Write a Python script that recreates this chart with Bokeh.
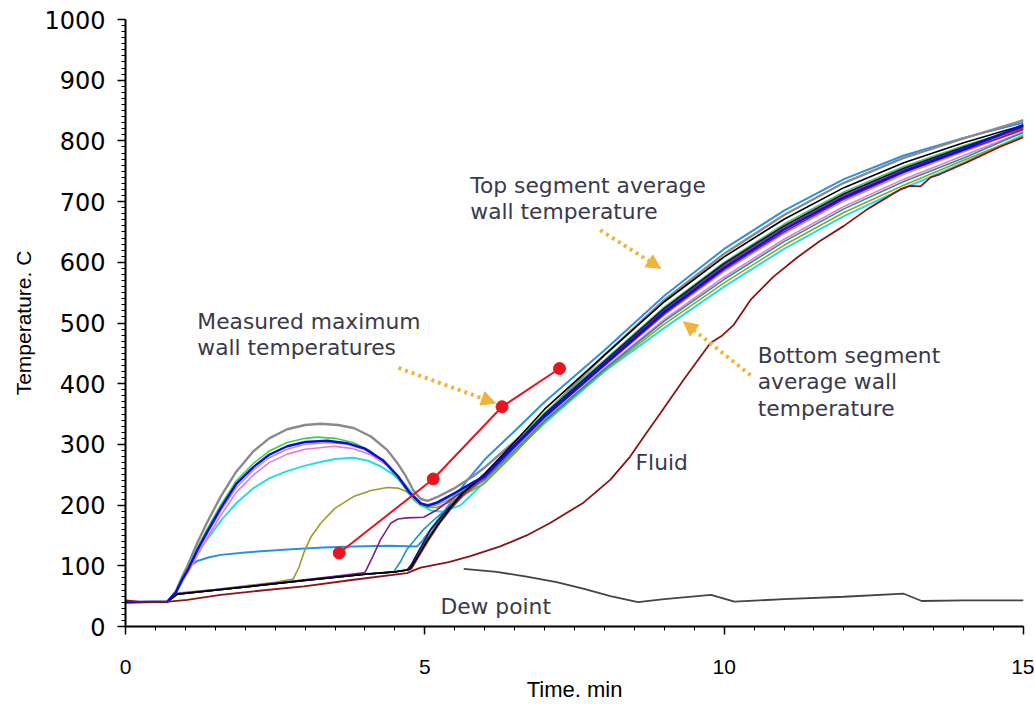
from bokeh.plotting import figure
from bokeh.models import (Range1d, SingleIntervalTicker, ColumnDataSource, Arrow,
                          NormalHead)
from bokeh.core.properties import value
from bokeh.embed import file_html
from bokeh.resources import INLINE

# ---- time grid shared by all wall thermocouples once they have merged (min)
late_t = [7, 8, 9, 10, 11, 12, 13, 14, 15]

# ---- wall thermocouples: early history (min, degC) + merged part on late_t
gray_t = [0, 0.7, 0.84, 0.95, 1.03, 1.2, 1.36, 1.59, 1.85, 2.14, 2.4, 2.7, 3.0, 3.26, 3.55, 3.81,
          4.1, 4.37, 4.55, 4.68, 4.81, 4.93, 5.05, 5.2, 5.5, 5.8, 6.0, 6.5]
gray_T = [40, 41, 58, 83, 99, 138, 171, 214, 255, 289, 310, 325, 332, 334, 332, 327,
          313, 291, 268, 248, 224, 210, 207, 213, 228, 247, 262, 305]
gray_late = [350, 447, 538, 614, 678, 731, 772, 804, 834]

green_t = [0, 0.7, 0.84, 0.95, 1.05, 1.2, 1.36, 1.59, 1.85, 2.14, 2.4, 2.7, 3.0, 3.2, 3.5, 3.8,
           4.1, 4.37, 4.6, 4.8, 4.93, 5.05, 5.2, 5.5, 5.8, 6.0, 6.5]
green_T = [40, 41, 57, 80, 98, 130, 160, 200, 240, 269, 289, 303, 310, 312, 310, 303,
           289, 266, 237, 210, 199, 197, 202, 217, 235, 250, 302]
green_late = [352, 439, 526, 600, 663, 716, 758, 792, 823]

blue_t = [0, 0.7, 0.84, 0.95, 1.05, 1.2, 1.36, 1.59, 1.85, 2.14, 2.4, 2.7, 3.0, 3.37, 3.7, 4.0,
          4.3, 4.55, 4.75, 4.93, 5.05, 5.2, 5.5, 5.8, 6.0, 6.5]
blue_T = [40, 41, 56, 78, 95, 126, 155, 195, 235, 263, 283, 297, 304, 306, 302, 293,
          274, 248, 220, 203, 199, 204, 220, 237, 248, 298]
blue_late = [346, 432, 518, 591, 654, 707, 750, 786, 826]

violet_t = [0, 0.7, 0.84, 0.95, 1.05, 1.2, 1.36, 1.59, 1.85, 2.14, 2.4, 2.7, 3.0, 3.4, 3.7, 4.0,
            4.3, 4.55, 4.75, 4.93, 5.05, 5.2, 5.5, 5.8, 6.0, 6.5]
violet_T = [40, 41, 56, 77, 93, 123, 151, 190, 229, 258, 278, 292, 300, 303, 300, 291,
            273, 247, 220, 204, 201, 205, 219, 235, 246, 295]
violet_late = [343, 429, 513, 585, 647, 701, 745, 782, 818]

pink_t = [0, 0.7, 0.84, 0.95, 1.05, 1.2, 1.36, 1.59, 1.85, 2.14, 2.4, 2.7, 3.0, 3.48, 3.8, 4.1,
          4.37, 4.6, 4.8, 4.95, 5.05, 5.2, 5.5, 5.8, 6.0, 6.5]
pink_T = [40, 41, 55, 75, 90, 118, 145, 183, 221, 250, 270, 284, 292, 297, 293, 283,
          265, 240, 214, 200, 197, 200, 213, 230, 243, 290]
pink_late = [340, 425, 506, 576, 638, 692, 737, 776, 815]

cyan_t = [0, 0.7, 0.84, 0.95, 1.09, 1.3, 1.59, 1.85, 2.14, 2.4, 2.7, 3.0, 3.26, 3.5, 3.81, 4.05,
          4.26, 4.45, 4.65, 4.87, 4.98, 5.1, 5.3, 5.6, 6.0, 6.5]
cyan_T = [40, 41, 55, 74, 100, 135, 174, 203, 228, 244, 256, 265, 271, 276, 278, 273,
          264, 252, 236, 210, 198, 191, 189, 200, 238, 288]
cyan_late = [335, 420, 492, 560, 622, 676, 722, 764, 810]

sky_t = [0, 0.7, 0.84, 0.95, 1.05, 1.11, 1.2, 1.4, 1.59, 2.0, 2.7, 3.3, 3.81, 4.4, 4.87, 4.95,
         5.1, 5.4, 5.7, 6.0, 6.5]
sky_T = [40, 41, 56, 78, 94, 102, 108, 114, 118, 122, 127, 130, 132, 133, 132, 140,
         160, 200, 240, 275, 322]
sky_late = [370, 455, 545, 622, 685, 737, 776, 805, 830]

olive_t = [0, 0.7, 0.86, 1.5, 2.0, 2.5, 2.8, 2.9, 2.98, 3.1, 3.26, 3.5, 3.81, 4.1, 4.37, 4.55,
           4.68, 4.81, 4.93, 5.05, 5.2, 5.5, 5.8, 6.0, 6.5]
olive_T = [40, 41, 55, 61, 67, 73, 78, 98, 122, 148, 170, 195, 214, 224, 229, 228,
           223, 213, 202, 196, 196, 209, 225, 236, 285]
olive_late = [337, 422, 498, 566, 628, 682, 727, 768, 808]

purple_t = [0, 0.7, 0.86, 2.0, 3.0, 3.7, 4.0, 4.13, 4.26, 4.43, 4.55, 4.7, 4.98, 5.2, 5.5, 5.8,
            6.0, 6.5]
purple_T = [40, 41, 54, 66, 77, 85, 89, 115, 143, 170, 177, 179, 180, 192, 214, 233,
            245, 295]
purple_late = [345, 430, 515, 588, 650, 704, 748, 784, 819]

teal_t = [0, 0.7, 0.86, 2.0, 3.0, 4.0, 4.48, 4.6, 4.7, 4.85, 4.98, 5.2, 5.5, 5.8, 6.0, 6.5]
teal_T = [40, 41, 54, 66, 77, 87, 90, 108, 127, 145, 160, 180, 205, 228, 242, 290]
teal_late = [339, 424, 503, 572, 634, 688, 733, 772, 814]

navy_t = [0, 0.7, 0.86, 2.0, 3.0, 4.0, 4.5, 4.7, 4.78, 4.9, 5.1, 5.37, 5.6, 6.0, 6.5]
navy_T = [40, 41, 53, 65, 76, 86, 90, 93, 102, 125, 160, 192, 218, 249, 299]
navy_late = [350, 437, 524, 598, 660, 713, 755, 790, 824]

black_t = [0, 0.7, 0.86, 2.0, 3.0, 4.0, 4.5, 4.75, 4.85, 5.0, 5.2, 5.4, 5.65, 6.0, 6.5]
black_T = [40, 41, 53, 65, 76, 86, 90, 94, 110, 135, 165, 192, 221, 252, 304]
black_late = [358, 447, 535, 609, 671, 723, 764, 797, 826]

brick_t = [0, 0.7, 0.86, 2.0, 3.0, 4.0, 4.5, 4.78, 4.9, 5.05, 5.25, 5.45, 5.7, 6.0, 6.5]
brick_T = [40, 41, 53, 65, 76, 86, 90, 95, 115, 140, 170, 195, 222, 246, 297]
brick_late = [348, 435, 520, 594, 657, 710, 752, 788, 821]

forest_t = [0, 0.7, 0.86, 2.0, 3.0, 4.0, 4.5, 4.72, 4.85, 5.0, 5.2, 5.45, 5.7, 6.0, 6.5]
forest_T = [40, 41, 53, 65, 76, 86, 90, 93, 116, 139, 168, 197, 225, 248, 300]
forest_late = [349, 436, 522, 596, 659, 712, 754, 789, 822]

# ---- fluid and dew point
fluid_t = [0, 0.3, 0.63, 1.03, 1.59, 2.14, 2.98, 3.81, 4.7, 4.93, 5.4, 5.76, 6.26, 6.7, 7.1,
           7.65, 8.1, 8.43, 8.66, 8.94, 9.32, 9.77, 9.95, 10.16, 10.44, 10.82, 11.22, 11.6,
           12.0, 12.4, 12.94, 13.1, 13.28, 13.45, 13.6, 14.06, 14.6, 15]
fluid_T = [43, 40, 40, 44, 52, 58, 66, 77, 88, 97, 106, 116, 132, 150, 171,
           204, 242, 280, 313, 352, 406, 467, 478, 497, 538, 576, 608, 635,
           660, 688, 720, 726, 725, 740, 745, 765, 790, 806]

dew_t = [5.65, 6.2, 6.7, 7.2, 7.66, 8.1, 8.56, 9.0, 9.55, 9.78, 10.17, 11.0, 12.0, 13.0, 13.3,
         14.0, 15.0]
dew_T = [95, 90, 82, 73, 62, 50, 40, 45, 50, 52, 41, 45, 49, 54, 42, 43, 43]

# ---- measured maximum wall temperatures
max_t = [3.57, 5.14, 6.29, 7.25]
max_T = [121, 243, 362, 425]

# ---- annotation texts
note_text = ["Top segment average", "wall temperature",
             "Measured maximum", "wall temperatures",
             "Bottom segment", "average wall", "temperature",
             "Fluid", "Dew point"]
note_x = [5.76, 5.76, 1.2, 1.2, 10.56, 10.56, 10.56, 8.52, 5.26]
note_y = [727, 684, 502, 459, 446, 403, 359, 271, 33]

# dotted pointer arrows: (x_start, y_start, x_end, y_end)
pointers = [(7.93, 653, 8.94, 590),
            (4.56, 426, 6.18, 368),
            (10.44, 414, 9.32, 502)]

p = figure(width=1034, height=704, output_backend="svg", toolbar_location=None,
           x_range=Range1d(0, 15), y_range=Range1d(0, 1000),
           min_border_left=125, min_border_right=11, min_border_top=19,
           min_border_bottom=77)
p.outline_line_color = None
p.xgrid.visible = False
p.ygrid.visible = False
p.background_fill_color = "white"
p.border_fill_color = "white"

walls = [
    (sky_t, sky_T, sky_late, "#2E8FE0", 2.0),
    (gray_t, gray_T, gray_late, "#8A8A8A", 2.4),
    (cyan_t, cyan_T, cyan_late, "#22DDE8", 2.0),
    (pink_t, pink_T, pink_late, "#F078C8", 1.6),
    (violet_t, violet_T, violet_late, "#B48CE6", 1.4),
    (olive_t, olive_T, olive_late, "#9C9C2C", 1.6),
    (teal_t, teal_T, teal_late, "#1A9A9A", 1.6),
    (purple_t, purple_T, purple_late, "#7E1E8E", 1.6),
    (green_t, green_T, green_late, "#3CD23C", 1.6),
    (forest_t, forest_T, forest_late, "#1E6E1E", 1.4),
    (brick_t, brick_T, brick_late, "#C02828", 1.4),
    (navy_t, navy_T, navy_late, "#101080", 1.6),
    (black_t, black_T, black_late, "#000000", 1.6),
    (blue_t, blue_T, blue_late, "#0A0AE6", 2.4),
]
for t_early, T_early, T_late, col, lw in walls:
    p.line(t_early + late_t, T_early + T_late, line_color=col, line_width=lw)

p.line(fluid_t, fluid_T, line_color="#8B1414", line_width=1.8)
p.line(dew_t, dew_T, line_color="#444444", line_width=1.8)

p.line(max_t, max_T, line_color="#E8141E", line_width=2)
p.scatter(max_t, max_T, size=12, fill_color="#E8141E", line_color="#E8141E")

for xs, ys, xe, ye in pointers:
    p.add_layout(Arrow(x_start=xs, y_start=ys, x_end=xe, y_end=ye,
                       line_color="#F0B43A", line_width=4, line_dash="3 4",
                       end=NormalHead(size=14, fill_color="#F0B43A",
                                      line_color="#F0B43A")))

src = ColumnDataSource(dict(x=note_x, y=note_y, text=note_text))
p.text(x="x", y="y", text="text", source=src, text_font=value("DejaVu Sans"),
       text_font_size="21.8px", text_color="#3A3A4A", text_baseline="middle",
       text_align="left")

# axes
p.xaxis.ticker = SingleIntervalTicker(interval=5, num_minor_ticks=10)
p.yaxis.ticker = SingleIntervalTicker(interval=100, num_minor_ticks=10)
for ax in (p.xaxis[0], p.yaxis[0]):
    ax.axis_line_color = "black"
    ax.axis_line_width = 2
    ax.major_tick_line_color = "black"
    ax.major_tick_line_width = 1.5
    ax.minor_tick_line_color = "black"
    ax.major_tick_in = 0
    ax.major_tick_out = 8
    ax.minor_tick_in = 0
    ax.minor_tick_out = 4
    ax.major_label_text_color = "black"
    ax.axis_label_text_color = "black"
    ax.axis_label_text_font_style = "normal"

p.xaxis.axis_label = "Time. min"
p.yaxis.axis_label = "Temperature. C"
p.xaxis.major_label_text_font = "Liberation Sans"
p.xaxis.major_label_text_font_size = "21px"
p.xaxis.major_label_standoff = 25
p.xaxis.axis_label_text_font = "Liberation Sans"
p.xaxis.axis_label_text_font_size = "22px"
p.xaxis.axis_label_standoff = 0
p.yaxis.major_label_text_font = "DejaVu Sans"
p.yaxis.major_label_text_font_size = "24px"
p.yaxis.major_label_standoff = 12
p.yaxis.axis_label_text_font = "Liberation Sans"
p.yaxis.axis_label_text_font_size = "21px"
p.yaxis.axis_label_standoff = 6

open("out.html", "w").write(file_html(p, INLINE))
